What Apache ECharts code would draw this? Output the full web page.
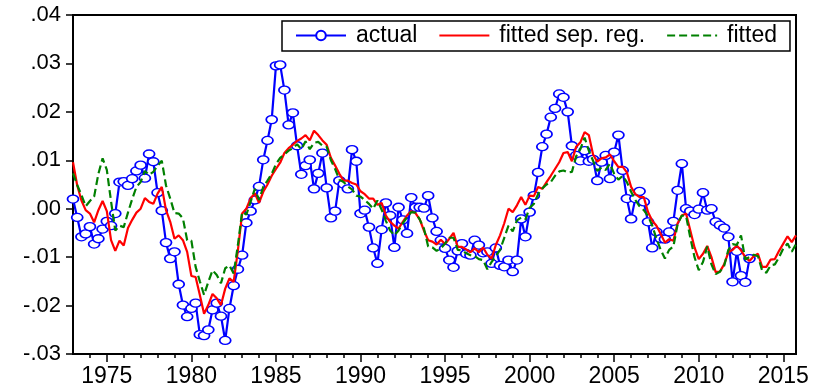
<!DOCTYPE html>
<html>
<head>
<meta charset="utf-8">
<script src="https://cdn.jsdelivr.net/npm/echarts@6/dist/echarts.min.js"></script>
<style>
html,body{margin:0;padding:0;background:#fff;}
#chart{width:813px;height:388px;}
</style>
</head>
<body>
<div id="chart"></div>
<script>
// Quarterly observations starting 1973Q1
var startYear = 1973;
var seriesNames = ['actual', 'fitted sep. reg.', 'fitted'];
var yTicks = [-0.03, -0.02, -0.01, 0.00, 0.01, 0.02, 0.03, 0.04];
var xLabelYears = [1975, 1980, 1985, 1990, 1995, 2000, 2005, 2010, 2015];

var actual = [
 0.0020,-0.0018,-0.0058,-0.0052,-0.0037,-0.0073,-0.0062,-0.0042,-0.0026,-0.0035,
-0.0010, 0.0055, 0.0056, 0.0048, 0.0062, 0.0078, 0.0090, 0.0063, 0.0113, 0.0097,
 0.0033,-0.0004,-0.0070,-0.0103,-0.0089,-0.0156,-0.0199,-0.0223,-0.0206,-0.0195,
-0.0260,-0.0262,-0.0250,-0.0209,-0.0195,-0.0222,-0.0272,-0.0206,-0.0159,-0.0125,
-0.0096,-0.0029,-0.0005, 0.0018, 0.0046, 0.0101, 0.0141, 0.0184, 0.0295, 0.0297,
 0.0245, 0.0173, 0.0198, 0.0130, 0.0071, 0.0089, 0.0101, 0.0041, 0.0073, 0.0115,
 0.0043,-0.0019,-0.0005, 0.0058, 0.0051, 0.0041, 0.0122, 0.0098,-0.0010,-0.0003,
-0.0038,-0.0081,-0.0113,-0.0043, 0.0012,-0.0014,-0.0080, 0.0003,-0.0023,-0.0051,
 0.0023, 0.0003, 0.0003, 0.0001, 0.0027,-0.0019,-0.0047,-0.0065,-0.0082,-0.0106,
-0.0121,-0.0087,-0.0072,-0.0093,-0.0096,-0.0065,-0.0075,-0.0091,-0.0089,-0.0113,
-0.0081,-0.0117,-0.0120,-0.0106,-0.0130,-0.0106,-0.0021,-0.0058,-0.0007, 0.0027,
 0.0075, 0.0128, 0.0154, 0.0189, 0.0207, 0.0237, 0.0230, 0.0200, 0.0130, 0.0110,
 0.0099, 0.0120, 0.0098, 0.0102, 0.0058, 0.0096, 0.0110, 0.0062, 0.0117, 0.0152,
 0.0079, 0.0021,-0.0021, 0.0021, 0.0036, 0.0014,-0.0027,-0.0081,-0.0048,-0.0062,
-0.0063,-0.0048,-0.0026, 0.0038, 0.0093, 0.0000,-0.0005,-0.0012,-0.0001, 0.0033,
-0.0003, 0.0000,-0.0027,-0.0034,-0.0040,-0.0058,-0.0151,-0.0088,-0.0138,-0.0152,
-0.0103
];

var fittedSep = [
 0.0096, 0.0048, 0.0017,-0.0003,-0.0010,-0.0028,-0.0003, 0.0016,-0.0005,-0.0065,
-0.0087,-0.0066,-0.0076,-0.0040,-0.0023,-0.0008, 0.0000, 0.0022, 0.0014, 0.0010,
 0.0031, 0.0045,-0.0003,-0.0027,-0.0062,-0.0055,-0.0065,-0.0089,-0.0139,-0.0141,
-0.0178,-0.0217,-0.0199,-0.0176,-0.0185,-0.0199,-0.0165,-0.0144,-0.0151,-0.0086,
-0.0010, 0.0000, 0.0021, 0.0032, 0.0012, 0.0035, 0.0050, 0.0068, 0.0082, 0.0095,
 0.0115, 0.0125, 0.0132, 0.0140, 0.0145, 0.0152, 0.0141, 0.0161, 0.0152, 0.0141,
 0.0132, 0.0105, 0.0089, 0.0072, 0.0058, 0.0058, 0.0053, 0.0050, 0.0036, 0.0030,
 0.0021, 0.0021, 0.0008, 0.0012,-0.0014,-0.0027,-0.0035,-0.0041,-0.0027,-0.0014,
-0.0005,-0.0009,-0.0022,-0.0045,-0.0065,-0.0068,-0.0074,-0.0064,-0.0073,-0.0062,
-0.0050,-0.0079,-0.0079,-0.0084,-0.0090,-0.0082,-0.0090,-0.0080,-0.0095,-0.0103,
-0.0075,-0.0055,-0.0030, 0.0000,-0.0007, 0.0007, 0.0024, 0.0008, 0.0027, 0.0026,
 0.0045, 0.0041, 0.0055, 0.0068, 0.0082, 0.0096, 0.0115, 0.0117, 0.0098, 0.0128,
 0.0137, 0.0158, 0.0152, 0.0112, 0.0097, 0.0104, 0.0106, 0.0112, 0.0098, 0.0086,
 0.0087, 0.0075, 0.0045, 0.0030, 0.0024, 0.0024,-0.0007,-0.0025,-0.0035,-0.0052,
-0.0070,-0.0063,-0.0066,-0.0030,-0.0014,-0.0010,-0.0045,-0.0080,-0.0104,-0.0093,
-0.0077,-0.0100,-0.0131,-0.0130,-0.0115,-0.0090,-0.0085,-0.0076,-0.0086,-0.0100,
-0.0108,-0.0098,-0.0093,-0.0120,-0.0120,-0.0105,-0.0104,-0.0087,-0.0072,-0.0057,
-0.0069,-0.0055
];

var fitted = [
 0.0073, 0.0049, 0.0028, 0.0005, 0.0016, 0.0025, 0.0072, 0.0104, 0.0080, 0.0015,
-0.0045,-0.0035,-0.0038,-0.0008, 0.0020, 0.0045, 0.0055, 0.0078, 0.0070, 0.0076,
 0.0089, 0.0099, 0.0048, 0.0021,-0.0009,-0.0010,-0.0020,-0.0065,-0.0066,-0.0120,
-0.0150,-0.0178,-0.0151,-0.0127,-0.0137,-0.0154,-0.0123,-0.0117,-0.0134,-0.0075,
-0.0007,-0.0012, 0.0014, 0.0041, 0.0018, 0.0045, 0.0058, 0.0072, 0.0092, 0.0105,
 0.0112, 0.0120, 0.0125, 0.0133, 0.0123, 0.0139, 0.0123, 0.0136, 0.0138, 0.0130,
 0.0128, 0.0100, 0.0082, 0.0060, 0.0055, 0.0046, 0.0040, 0.0027, 0.0025, 0.0018,
 0.0010, 0.0000, 0.0017,-0.0002,-0.0025,-0.0045,-0.0055,-0.0045,-0.0030,-0.0018,
-0.0007,-0.0008,-0.0022,-0.0041,-0.0078,-0.0080,-0.0087,-0.0082,-0.0072,-0.0060,
-0.0060,-0.0085,-0.0086,-0.0092,-0.0096,-0.0098,-0.0104,-0.0106,-0.0125,-0.0110,
-0.0098,-0.0085,-0.0060,-0.0035,-0.0047,-0.0024,-0.0018,-0.0022, 0.0002, 0.0010,
 0.0030, 0.0042, 0.0050, 0.0055, 0.0068, 0.0077, 0.0079, 0.0075, 0.0076, 0.0108,
 0.0123, 0.0147, 0.0120, 0.0099, 0.0078, 0.0085, 0.0080, 0.0093, 0.0072, 0.0060,
 0.0068, 0.0055, 0.0035, 0.0018, 0.0005,-0.0003,-0.0015,-0.0035,-0.0062,-0.0085,
-0.0103,-0.0085,-0.0078,-0.0032,-0.0014,-0.0015,-0.0060,-0.0100,-0.0127,-0.0110,
-0.0078,-0.0115,-0.0135,-0.0130,-0.0118,-0.0085,-0.0073,-0.0075,-0.0055,-0.0105,
-0.0100,-0.0095,-0.0098,-0.0128,-0.0132,-0.0117,-0.0115,-0.0100,-0.0082,-0.0072,
-0.0089,-0.0073
];

function toPairs(arr) {
  return arr.map(function (v, i) { return [startYear + i / 4, v]; });
}
function fmtY(v) {
  var s = Math.abs(v).toFixed(2).replace(/^0/, '');
  return (v < -1e-9 ? '-' : '') + s;
}
var FONT = 'Liberation Sans, Arial, Helvetica, sans-serif';
var lastQ = startYear + (fittedSep.length - 1) / 4;
var minorYears = [];
for (var y = startYear + 1; y <= Math.floor(lastQ); y++) minorYears.push(y);

var chart = echarts.init(document.getElementById('chart'), null, {renderer: 'canvas'});
chart.setOption({
  animation: false,
  backgroundColor: '#fff',
  grid: {left: 73, right: 17, top: 15, bottom: 33, show: true, borderColor: '#000', borderWidth: 2, backgroundColor: 'transparent'},
  legend: {
    left: 282, top: 21,
    data: [
      {name: seriesNames[0]},
      {name: seriesNames[1], itemStyle: {opacity: 0}},
      {name: seriesNames[2], itemStyle: {opacity: 0}}
    ],
    borderColor: '#000', borderWidth: 1.5,
    padding: [3, 13, 4, 13],
    itemWidth: 50, itemHeight: 12, itemGap: 21,
    textStyle: {fontSize: 23, color: '#000', fontFamily: FONT, padding: [0, 0, 0, 5]}
  },
  xAxis: [{
    type: 'value', min: startYear, max: lastQ, interval: 1,
    axisLine: {show: true, onZero: false, lineStyle: {color: '#000', width: 2}},
    axisTick: {show: true, length: 4, customValues: minorYears, lineStyle: {color: '#000', width: 1.5}},
    axisLabel: {show: true, customValues: xLabelYears, margin: 11, color: '#000', fontSize: 23, fontFamily: FONT,
      formatter: function (v) { return String(Math.round(v)); }},
    splitLine: {show: false}
  }, {
    type: 'value', min: startYear, max: lastQ, interval: 1, position: 'bottom',
    axisLine: {show: false, onZero: false},
    axisTick: {show: true, length: 8, customValues: xLabelYears, lineStyle: {color: '#000', width: 1.5}},
    axisLabel: {show: false},
    splitLine: {show: false}
  }],
  yAxis: {
    type: 'value', min: yTicks[0], max: yTicks[yTicks.length - 1], interval: 0.01,
    axisLine: {show: true, onZero: false, lineStyle: {color: '#000', width: 2}},
    axisTick: {show: true, length: 7, lineStyle: {color: '#000', width: 1.5}},
    axisLabel: {margin: 12, color: '#000', fontSize: 22, fontFamily: FONT, formatter: fmtY},
    splitLine: {show: false}
  },
  series: [{
    name: seriesNames[0], type: 'line', data: toPairs(actual),
    symbol: 'circle', symbolSize: [11, 8], showAllSymbol: true,
    color: '#0000ff',
    itemStyle: {color: '#ffffff', borderColor: '#0000ff', borderWidth: 1.5},
    lineStyle: {color: '#0000ff', width: 2.2},
    z: 2
  }, {
    name: seriesNames[1], type: 'line', data: toPairs(fittedSep),
    symbol: 'none', color: '#ff0000',
    lineStyle: {color: '#ff0000', width: 2.2},
    z: 3
  }, {
    name: seriesNames[2], type: 'line', data: toPairs(fitted),
    symbol: 'none', color: '#008000',
    lineStyle: {color: '#008000', width: 2.2, type: [8, 4]},
    z: 4
  }]
});
</script>
</body>
</html>
